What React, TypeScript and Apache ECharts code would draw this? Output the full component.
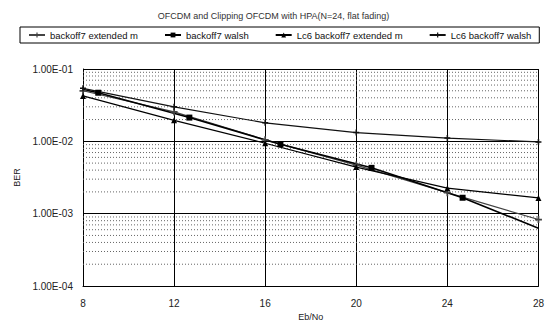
import React, { useEffect, useRef } from "react";
import * as echarts from "echarts";

const titleText = "OFCDM and Clipping OFCDM with HPA(N=24, flat fading)";
const seriesNames = [
  "backoff7 extended m",
  "backoff7 walsh",
  "Lc6 backoff7 extended m",
  "Lc6 backoff7 walsh",
];

// backoff7 extended m
const extX = [8, 12, 16, 20, 24, 28];
const extY = [0.05, 0.0255, 0.0105, 0.0047, 0.00195, 0.00083];
// backoff7 walsh (markers offset from the grid lines)
const walshX = [8, 8.67, 12.67, 16.67, 20.67, 24.67, 28];
const walshY = [0.052, 0.047, 0.0213, 0.0091, 0.0043, 0.00166, 0.00063];
const walshMarked = [false, true, true, true, true, true, false];
// Lc6 backoff7 extended m
const lcExtX = [8, 12, 16, 20, 24, 28];
const lcExtY = [0.0425, 0.0195, 0.0094, 0.0044, 0.00225, 0.00165];
// Lc6 backoff7 walsh
const lcWalshX = [8, 12, 16, 20, 24, 28];
const lcWalshY = [0.054, 0.03, 0.018, 0.0132, 0.0111, 0.0098];

const minorGrid = [
  2e-4, 3e-4, 4e-4, 5e-4, 6e-4, 7e-4, 8e-4, 9e-4,
  2e-3, 3e-3, 4e-3, 5e-3, 6e-3, 7e-3, 8e-3, 9e-3,
  2e-2, 3e-2, 4e-2, 5e-2, 6e-2, 7e-2, 8e-2, 9e-2,
];
const xRange = [8, 28];

const plus = "path://M3,0H5V3H8V5H5V8H3V5H0V3H3Z";

function fmt(v: number) {
  const e = Math.round(Math.log10(v));
  const sign = e < 0 ? "-" : "+";
  const a = Math.abs(e);
  return "1.00E" + sign + (a < 10 ? "0" + a : String(a));
}

export default function App() {
  const ref = useRef<HTMLDivElement>(null);
  useEffect(() => {
    const chart = echarts.init(ref.current!, null, { renderer: "svg" });
    const font = "Liberation Sans";
    const pair = (xs: number[], ys: number[]) => xs.map((x, i) => [x, ys[i]]);
    const gridSeries = minorGrid.map((v) => ({
      name: "minor" + v,
      type: "line",
      data: xRange.map((x) => [x, v]),
      symbol: "none",
      silent: true,
      z: 1,
      lineStyle: { color: "#666", type: [1, 2], width: 1 },
    }));
    chart.setOption({
      animation: false,
      backgroundColor: "#fff",
      textStyle: { fontFamily: font },
      title: {
        text: titleText,
        left: "center",
        top: 6,
        textStyle: { fontSize: 9, fontWeight: "normal", color: "#333", fontFamily: font },
      },
      legend: {
        top: 27,
        left: 20,
        itemGap: 26,
        itemWidth: 16,
        itemHeight: 6,
        padding: [3, 8, 3, 8],
        borderColor: "#000",
        borderWidth: 1,
        borderRadius: 0,
        textStyle: { fontSize: 9.5, color: "#111", fontFamily: font },
        data: seriesNames,
      },
      grid: { left: 83, right: 2, top: 69, bottom: 45 },
      xAxis: {
        type: "value",
        min: 8,
        max: 28,
        interval: 4,
        name: "Eb/No",
        nameLocation: "middle",
        nameGap: 26,
        nameTextStyle: { fontSize: 9, color: "#222", fontFamily: font },
        axisLine: { lineStyle: { color: "#000" } },
        axisTick: { show: false },
        axisLabel: { fontSize: 10, color: "#222", margin: 12, fontFamily: font },
        splitLine: { show: true, lineStyle: { color: "#000", width: 1 } },
      },
      yAxis: {
        type: "log",
        logBase: 10,
        min: 1e-4,
        max: 1e-1,
        name: "BER",
        nameLocation: "middle",
        nameGap: 60,
        nameRotate: 90,
        nameTextStyle: { fontSize: 9, color: "#222", fontFamily: font },
        axisLine: { show: true, lineStyle: { color: "#000" } },
        axisTick: { show: false },
        axisLabel: { fontSize: 10, color: "#222", formatter: fmt, margin: 10, fontFamily: font },
        splitLine: { show: true, lineStyle: { color: "#000", width: 1 } },
      },
      series: [
        ...gridSeries,
        {
          name: seriesNames[0],
          type: "line",
          z: 3,
          data: pair(extX, extY),
          symbol: plus,
          symbolSize: 7,
          itemStyle: { color: "#444" },
          lineStyle: { color: "#444", width: 1.2 },
        },
        {
          name: seriesNames[1],
          type: "line",
          z: 3,
          data: walshX.map((x, i) =>
            walshMarked[i] ? [x, walshY[i]] : { value: [x, walshY[i]], symbol: "none" }
          ),
          symbol: "rect",
          symbolSize: 6,
          itemStyle: { color: "#000" },
          lineStyle: { color: "#000", width: 1.6 },
        },
        {
          name: seriesNames[2],
          type: "line",
          z: 3,
          data: pair(lcExtX, lcExtY),
          symbol: "triangle",
          symbolSize: 6,
          itemStyle: { color: "#000" },
          lineStyle: { color: "#000", width: 1.2 },
        },
        {
          name: seriesNames[3],
          type: "line",
          z: 3,
          data: pair(lcWalshX, lcWalshY),
          symbol: plus,
          symbolSize: 6,
          itemStyle: { color: "#111" },
          lineStyle: { color: "#111", width: 1.2 },
        },
      ],
    });
    return () => chart.dispose();
  }, []);
  return (
    <div
      ref={ref}
      style={{ position: "fixed", left: 0, top: 0, width: 547, height: 331 }}
    />
  );
}
